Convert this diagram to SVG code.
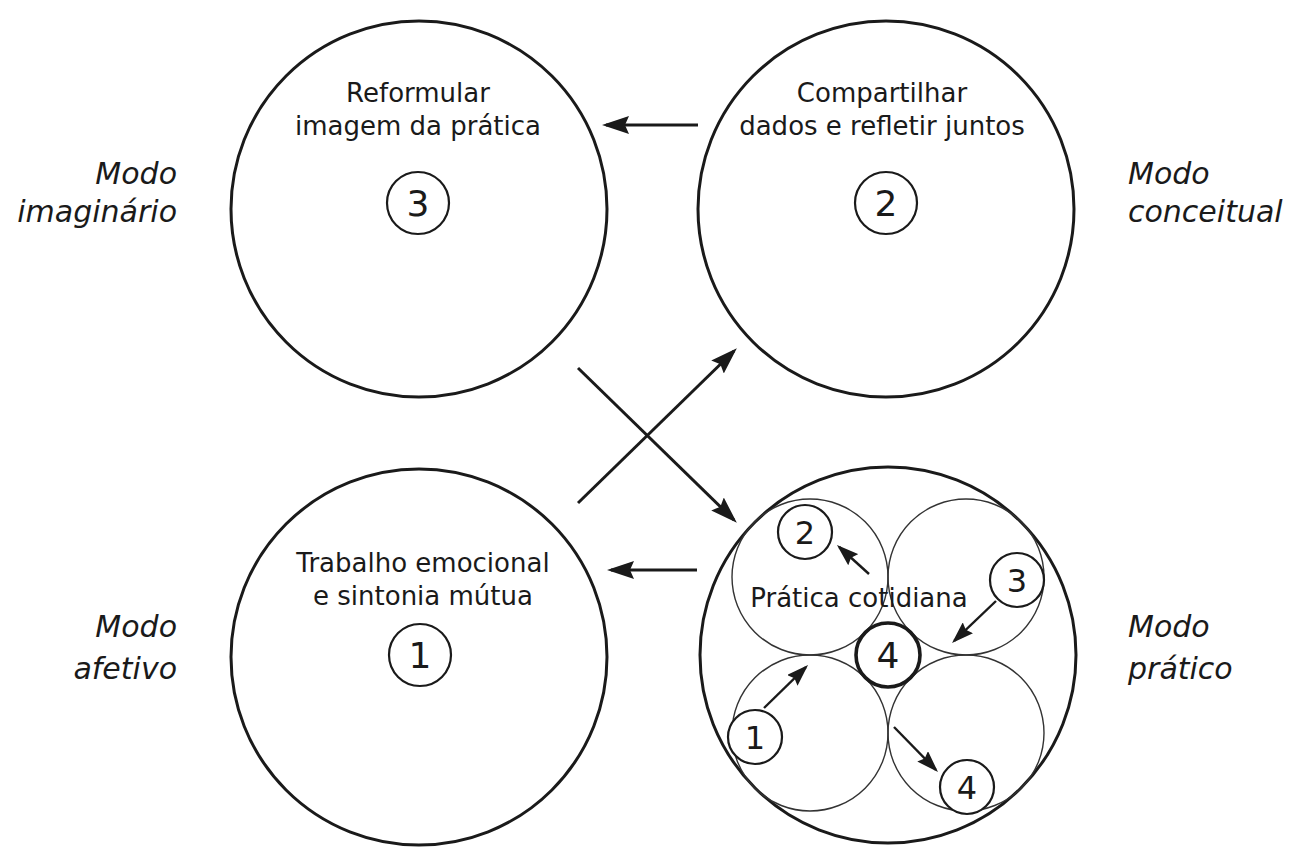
<svg xmlns="http://www.w3.org/2000/svg" width="1290" height="847" viewBox="0 0 1290 847">
  <style>
    .big { fill: none; stroke: #1a1a1a; stroke-width: 3; }
    .inner { fill: none; stroke: #333; stroke-width: 1.4; }
    .num { fill: #fff; stroke: #1a1a1a; stroke-width: 2.2; }
    .numthick { fill: #fff; stroke: #1a1a1a; stroke-width: 3.6; }
    .lbl { font-family: "DejaVu Sans", "Noto Sans", sans-serif; font-size: 26px; fill: #1a1a1a; text-anchor: middle; }
    .digit { font-family: "DejaVu Sans", "Noto Sans", sans-serif; font-size: 36px; fill: #1a1a1a; text-anchor: middle; }
    .digit-s { font-family: "DejaVu Sans", "Noto Sans", sans-serif; font-size: 32px; fill: #1a1a1a; text-anchor: middle; }
    .mode { font-family: "DejaVu Sans", "Noto Sans", sans-serif; font-style: italic; font-size: 30px; fill: #1a1a1a; }
    .arrow { stroke: #1a1a1a; stroke-width: 3; fill: none; }
    .arrow-s { stroke: #1a1a1a; stroke-width: 2.4; fill: none; }
  </style>
  <defs>
    <marker id="head" markerUnits="userSpaceOnUse" markerWidth="27" markerHeight="18" refX="23" refY="9" orient="auto">
      <path d="M0,0 L27,9 L0,18 L4,9 z" fill="#1a1a1a"/>
    </marker>
    <marker id="head-s" markerUnits="userSpaceOnUse" markerWidth="22" markerHeight="15" refX="19" refY="7.5" orient="auto">
      <path d="M0,0 L22,7.5 L0,15 L3,7.5 z" fill="#1a1a1a"/>
    </marker>
  </defs>
  <rect width="1290" height="847" fill="#fff"/>

  <!-- mode labels -->
  <g id="label-imaginario">
    <text class="mode" x="177" y="184" text-anchor="end">Modo</text>
    <text class="mode" x="177" y="222" text-anchor="end">imaginário</text>
  </g>
  <g id="label-conceitual">
    <text class="mode" x="1128" y="184">Modo</text>
    <text class="mode" x="1128" y="222">conceitual</text>
  </g>
  <g id="label-afetivo">
    <text class="mode" x="177" y="637" text-anchor="end">Modo</text>
    <text class="mode" x="177" y="679" text-anchor="end">afetivo</text>
  </g>
  <g id="label-pratico">
    <text class="mode" x="1128" y="637">Modo</text>
    <text class="mode" x="1128" y="679">prático</text>
  </g>

  <!-- mode 3: imaginary -->
  <g id="node-3">
    <circle class="big" cx="419" cy="209" r="188"/>
    <text class="lbl" x="418" y="102">Reformular</text>
    <text class="lbl" x="418" y="135">imagem da prática</text>
    <circle class="num" cx="418" cy="203" r="31"/>
    <text class="digit" x="418" y="216">3</text>
  </g>

  <!-- mode 2: conceptual -->
  <g id="node-2">
    <circle class="big" cx="886" cy="209" r="188"/>
    <text class="lbl" x="882" y="102">Compartilhar</text>
    <text class="lbl" x="882" y="135">dados e refletir juntos</text>
    <circle class="num" cx="886" cy="203" r="31"/>
    <text class="digit" x="886" y="216">2</text>
  </g>

  <!-- mode 1: affective -->
  <g id="node-1">
    <circle class="big" cx="419" cy="657" r="188"/>
    <text class="lbl" x="423" y="572">Trabalho emocional</text>
    <text class="lbl" x="423" y="605">e sintonia mútua</text>
    <circle class="num" cx="420" cy="655" r="31"/>
    <text class="digit" x="420" y="668">1</text>
  </g>

  <!-- mode 4: everyday practice, with its own four-step cycle -->
  <g id="node-4">
    <circle class="big" cx="888" cy="655" r="188"/>
    <circle class="inner" cx="810" cy="577" r="78"/>
    <circle class="inner" cx="966" cy="577" r="78"/>
    <circle class="inner" cx="810" cy="733" r="78"/>
    <circle class="inner" cx="966" cy="733" r="78"/>
    <text class="lbl" x="859" y="607">Prática cotidiana</text>
    <circle class="numthick" cx="888" cy="655" r="32"/>
    <text class="digit" x="888" y="668">4</text>
    <circle class="num" cx="805" cy="532" r="27"/>
    <text class="digit-s" x="805" y="544">2</text>
    <circle class="num" cx="1017" cy="580" r="27"/>
    <text class="digit-s" x="1017" y="592">3</text>
    <circle class="num" cx="755" cy="737" r="27"/>
    <text class="digit-s" x="755" y="749">1</text>
    <circle class="num" cx="967" cy="787" r="27"/>
    <text class="digit-s" x="967" y="799">4</text>
    <line class="arrow-s" x1="869" y1="574" x2="839.2" y2="547" marker-end="url(#head-s)"/>
    <line class="arrow-s" x1="996" y1="601" x2="954.2" y2="640.9" marker-end="url(#head-s)"/>
    <line class="arrow-s" x1="764" y1="708" x2="805.9" y2="667.1" marker-end="url(#head-s)"/>
    <line class="arrow-s" x1="894" y1="727" x2="935.9" y2="769.9" marker-end="url(#head-s)"/>
  </g>

  <!-- connectors between modes -->
  <g id="connectors">
    <line class="arrow" x1="698" y1="125" x2="606" y2="125" marker-end="url(#head)"/>
    <line class="arrow" x1="697" y1="570" x2="611" y2="570" marker-end="url(#head)"/>
    <line class="arrow" x1="578" y1="368" x2="734" y2="520" marker-end="url(#head)"/>
    <line class="arrow" x1="578" y1="503" x2="734" y2="351" marker-end="url(#head)"/>
  </g>
</svg>
